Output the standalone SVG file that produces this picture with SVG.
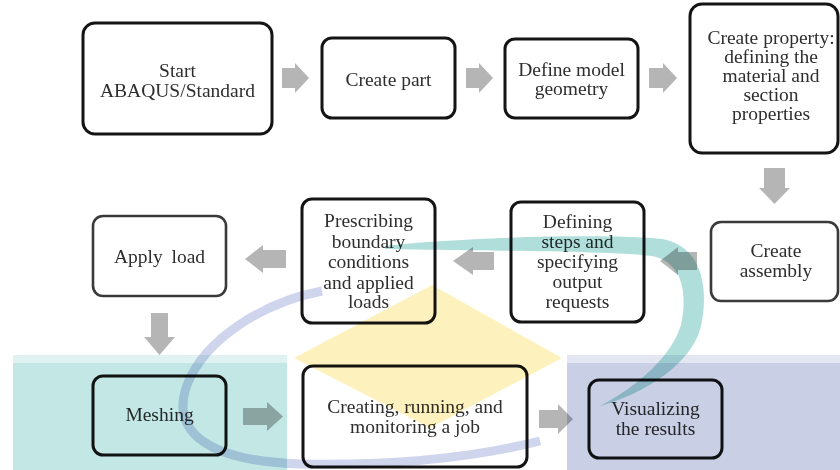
<svg xmlns="http://www.w3.org/2000/svg" width="840" height="470" viewBox="0 0 840 470">
<style>
.box{fill:#fff;stroke:#141414;stroke-width:3}
.box.g{stroke:#3a3a3a;stroke-width:2.6}
.t{font-family:"Liberation Serif","Times New Roman",serif;font-size:19.5px;fill:#2e2e2e;text-anchor:middle}
.arr{fill:#b5b5b5}
.wm{mix-blend-mode:multiply}
</style>
<rect width="840" height="470" fill="#fff"/>
<g id="connectors">
<polygon class="arr" points="282,68 295,68 295,63 309,78 295,93 295,88 282,88"/>
<polygon class="arr" points="466,68 479,68 479,63 493,78 479,93 479,88 466,88"/>
<polygon class="arr" points="649,68 663,68 663,63 677,78 663,93 663,88 649,88"/>
<polygon class="arr" points="764,168 785,168 785,188 790,188 774.5,204 759,188 764,188"/>
<polygon class="arr" points="697,252 678,252 678,247 660,261 678,275 678,270 697,270"/>
<polygon class="arr" points="494,252 473,252 473,247 453,261 473,275 473,270 494,270"/>
<polygon class="arr" points="286,250 263,250 263,245 245,259 263,273 263,268 286,268"/>
<polygon class="arr" points="151,313 168,313 168,337 175,337 159.5,355 144,337 151,337"/>
<polygon class="arr" points="243,408 267,408 267,402 283,416.5 267,431 267,425 243,425"/>
<polygon class="arr" points="539,410 558,410 558,404 573,419 558,434 558,428 539,428"/>
</g>
<g id="n1"><rect class="box" x="83" y="23" width="189" height="111" rx="12" stroke-width="3.5"/>
<text class="t" x="177.5" y="77">Start</text><text class="t" x="177.5" y="97">ABAQUS/Standard</text></g>
<g id="n2"><rect class="box" x="322" y="38" width="133" height="80" rx="10"/>
<text class="t" x="388.5" y="86">Create part</text></g>
<g id="n3"><rect class="box" x="505" y="39" width="133" height="79" rx="10"/>
<text class="t" x="571.5" y="76">Define model</text><text class="t" x="571.5" y="95">geometry</text></g>
<g id="n4"><rect class="box" x="690" y="4" width="148" height="149" rx="12"/>
<text class="t" x="771" y="44">Create property:</text><text class="t" x="771" y="63">defining the</text><text class="t" x="771" y="82">material and</text><text class="t" x="771" y="101">section</text><text class="t" x="771" y="120">properties</text></g>
<g id="n5"><rect class="box g" x="711" y="222" width="127" height="79" rx="10"/>
<text class="t" x="776" y="257">Create</text><text class="t" x="776" y="277">assembly</text></g>
<g id="n6"><rect class="box" x="511" y="202" width="133" height="120" rx="10"/>
<text class="t" x="577.5" y="228">Defining</text><text class="t" x="577.5" y="248">steps and</text><text class="t" x="577.5" y="268">specifying</text><text class="t" x="577.5" y="288">output</text><text class="t" x="577.5" y="308">requests</text></g>
<g id="n7"><rect class="box" x="302" y="199" width="133" height="124" rx="10"/>
<text class="t" x="368.5" y="227">Prescribing</text><text class="t" x="368.5" y="248">boundary</text><text class="t" x="368.5" y="268">conditions</text><text class="t" x="368.5" y="289">and applied</text><text class="t" x="368.5" y="308">loads</text></g>
<g id="n8"><rect class="box g" x="93" y="216" width="133" height="80" rx="10"/>
<text class="t" x="159.5" y="263" word-spacing="4">Apply load</text></g>
<g id="n9"><rect class="box" x="93" y="376" width="133" height="79" rx="10"/>
<text class="t" x="159.5" y="421">Meshing</text></g>
<g id="n10"><rect class="box" x="303" y="366" width="224" height="101" rx="10"/>
<text class="t" x="415" y="413">Creating, running, and</text><text class="t" x="415" y="433">monitoring a job</text></g>
<g id="n11"><rect class="box" x="589" y="380" width="133" height="78" rx="10"/>
<text class="t" x="655.5" y="415">Visualizing</text><text class="t" x="655.5" y="435">the results</text></g>
<g id="watermark">
<rect class="wm" x="13" y="355" width="274" height="8" fill="#e0f2f1"/>
<rect class="wm" x="13" y="363" width="274" height="107" fill="#c3e7e5"/>
<rect class="wm" x="567" y="355" width="273" height="8" fill="#e4e7f1"/>
<rect class="wm" x="567" y="363" width="273" height="107" fill="#c9cfe4"/>
<polygon class="wm" points="432,285 562,358 430,428 294,358" fill="#fdf2bd"/>
<path class="wm" d="M385,246 C450,238 600,233 662,239 C708,247 708,300 700,330 C690,362 650,392 600,406 C640,385 672,355 681,325 C688,292 682,262 652,256 C600,250 450,251 385,249 Z" fill="#b0dfdb"/>
<path class="wm" d="M322,291 C265,302 205,338 187,385 C170,432 208,461 300,464 C400,466 480,456 540,441" fill="none" stroke="#d0d5ee" stroke-width="9"/>
</g>
</svg>
